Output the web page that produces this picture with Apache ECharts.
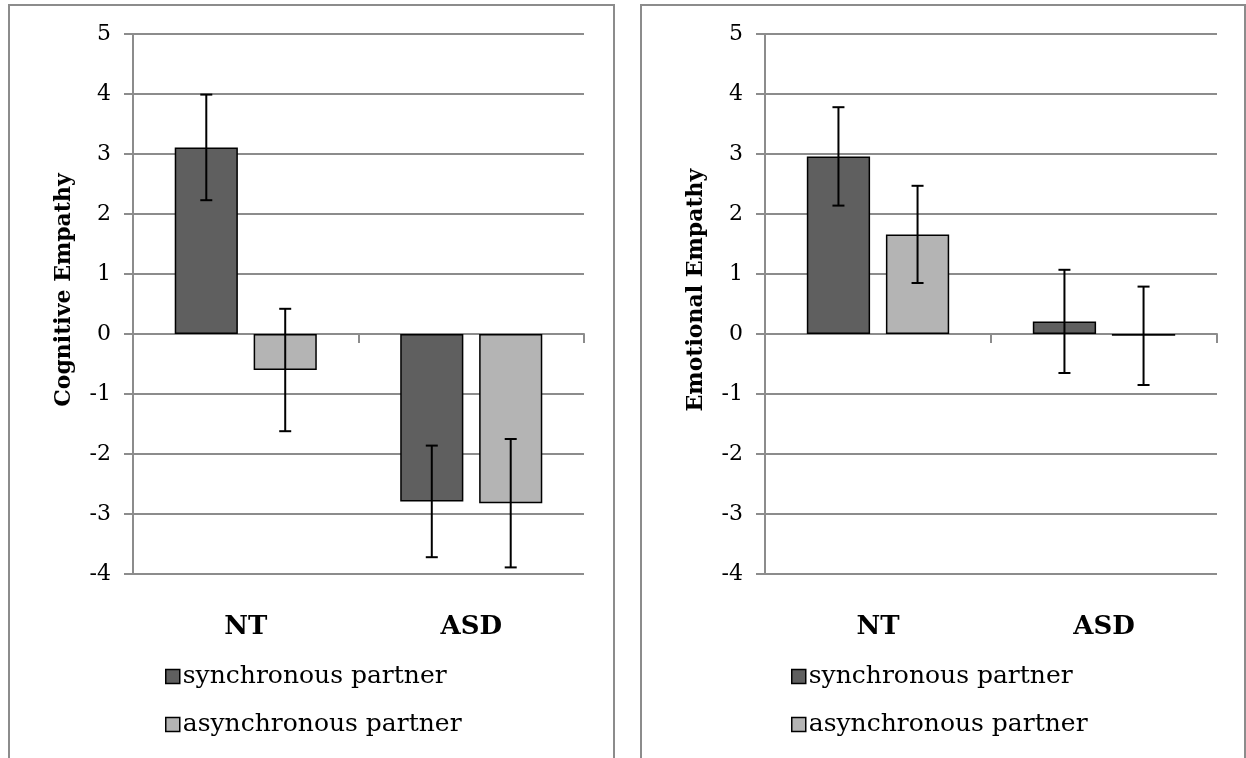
<!DOCTYPE html>
<html>
<head>
<meta charset="utf-8">
<script src="https://cdn.jsdelivr.net/npm/echarts@6/dist/echarts.min.js"></script>
<style>
html,body{margin:0;padding:0;background:#fff;}
#chart{width:1246px;height:758px;}
</style>
</head>
<body>
<div id="chart"></div>
<script>
// ---- data ----
var categories = ['NT', 'ASD'];
var seriesNames = ['synchronous partner', 'asynchronous partner'];
var yTicks = { min: -4, max: 5, interval: 1 };
var cognitiveSync = [3.11, -2.79];
var cognitiveSyncErr = [0.88, 0.93];
var cognitiveAsync = [-0.60, -2.82];
var cognitiveAsyncErr = [1.02, 1.07];
var emotionalSync = [2.96, 0.21];
var emotionalSyncErr = [0.82, 0.86];
var emotionalAsync = [1.66, -0.03];
var emotionalAsyncErr = [0.81, 0.82];
var axisTitles = ['Cognitive Empathy', 'Emotional Empathy'];

// ---- style ----
var FONT = 'DejaVu Serif';
var GRID_COLOR = '#8c8c8c';
var SYNC_COLOR = '#5f5f5f';
var ASYNC_COLOR = '#b4b4b4';
var BAR_W = 0.28;   // fraction of band
var BAR_GAP = 0.25; // fraction of bar width

var chart = echarts.init(document.getElementById('chart'), null, { renderer: 'canvas' });

var grids = [
  { left: 133, top: 34, width: 451, height: 540 },
  { left: 765, top: 34, width: 452, height: 540 }
];

function errSeries(gi, vals, errs, sign) {
  var data = vals.map(function (v, i) { return [i, v, errs[i]]; });
  return {
    type: 'custom',
    xAxisIndex: gi * 2,
    yAxisIndex: gi,
    z: 10,
    silent: true,
    data: data,
    renderItem: function (params, api) {
      var idx = api.value(0), v = api.value(1), e = api.value(2);
      var band = api.size([1, 0])[0];
      var off = sign * band * BAR_W * (1 + BAR_GAP) / 2;
      var top = api.coord([idx, v + e]);
      var bot = api.coord([idx, v - e]);
      var x = top[0] + off;
      var cap = 6;
      var st = { stroke: '#000', lineWidth: 2 };
      return {
        type: 'group',
        children: [
          { type: 'line', shape: { x1: x, y1: top[1], x2: x, y2: bot[1] }, style: st },
          { type: 'line', shape: { x1: x - cap, y1: top[1], x2: x + cap, y2: top[1] }, style: st },
          { type: 'line', shape: { x1: x - cap, y1: bot[1], x2: x + cap, y2: bot[1] }, style: st }
        ]
      };
    }
  };
}

var xAxes = [], yAxes = [], series = [], legends = [];
var sets = [
  [cognitiveSync, cognitiveSyncErr, cognitiveAsync, cognitiveAsyncErr],
  [emotionalSync, emotionalSyncErr, emotionalAsync, emotionalAsyncErr]
];

grids.forEach(function (g, gi) {
  // label axis at bottom
  xAxes.push({
    type: 'category', gridIndex: gi, data: categories, position: 'bottom',
    axisLine: { show: false, onZero: false }, axisTick: { show: false },
    axisLabel: { fontFamily: FONT, fontWeight: 'bold', fontSize: 26, color: '#000', margin: 40 },
    splitLine: { show: false }
  });
  // axis line at zero
  xAxes.push({
    type: 'category', gridIndex: gi, data: categories, position: 'bottom',
    axisLine: { show: true, onZero: true, onZeroAxisIndex: gi, lineStyle: { color: GRID_COLOR, width: 2 } },
    axisTick: { show: true, length: 9, lineStyle: { color: GRID_COLOR, width: 2 } },
    axisLabel: { show: false },
    splitLine: { show: false }
  });
  yAxes.push({
    type: 'value', gridIndex: gi, min: yTicks.min, max: yTicks.max, interval: yTicks.interval,
    axisLine: { show: true, lineStyle: { color: GRID_COLOR, width: 2 } },
    axisTick: { show: true, length: 9, lineStyle: { color: GRID_COLOR, width: 2 } },
    axisLabel: { fontFamily: FONT, fontSize: 22, color: '#000', margin: 22 },
    splitLine: { show: true, lineStyle: { color: GRID_COLOR, width: 2 } },
    name: axisTitles[gi], nameLocation: 'middle', nameGap: 58,
    nameTextStyle: { fontFamily: FONT, fontWeight: 'bold', fontSize: 22, color: '#000', padding: [0, 0, 0, 28] }
  });
  var s = sets[gi];
  series.push({
    name: seriesNames[0], type: 'bar', xAxisIndex: gi * 2, yAxisIndex: gi,
    data: s[0], barWidth: (BAR_W * 100) + '%', barGap: (BAR_GAP * 100) + '%',
    itemStyle: { color: SYNC_COLOR, borderColor: '#000', borderWidth: 1.5 }
  });
  series.push({
    name: seriesNames[1], type: 'bar', xAxisIndex: gi * 2, yAxisIndex: gi,
    data: s[2], barWidth: (BAR_W * 100) + '%', barGap: (BAR_GAP * 100) + '%',
    itemStyle: { color: ASYNC_COLOR, borderColor: '#000', borderWidth: 1.5 }
  });
  series.push(errSeries(gi, s[0], s[1], -1));
  series.push(errSeries(gi, s[2], s[3], 1));
  legends.push({
    orient: 'vertical', left: gi === 0 ? 160 : 786, top: 659,
    data: seriesNames, selectedMode: false,
    icon: 'rect', itemWidth: 14, itemHeight: 14, itemGap: 23,
    itemStyle: { borderColor: '#000', borderWidth: 1.5 },
    textStyle: { fontFamily: FONT, fontSize: 25, color: '#000', padding: [0, 0, 0, -2] }
  });
});

chart.setOption({
  animation: false,
  backgroundColor: '#fff',
  grid: grids,
  xAxis: xAxes,
  yAxis: yAxes,
  legend: legends,
  series: series,
  graphic: [
    { type: 'rect', shape: { x: 9, y: 5, width: 605, height: 770 }, style: { fill: null, stroke: GRID_COLOR, lineWidth: 2 }, silent: true },
    { type: 'rect', shape: { x: 641, y: 5, width: 604, height: 770 }, style: { fill: null, stroke: GRID_COLOR, lineWidth: 2 }, silent: true }
  ]
});
</script>
</body>
</html>
